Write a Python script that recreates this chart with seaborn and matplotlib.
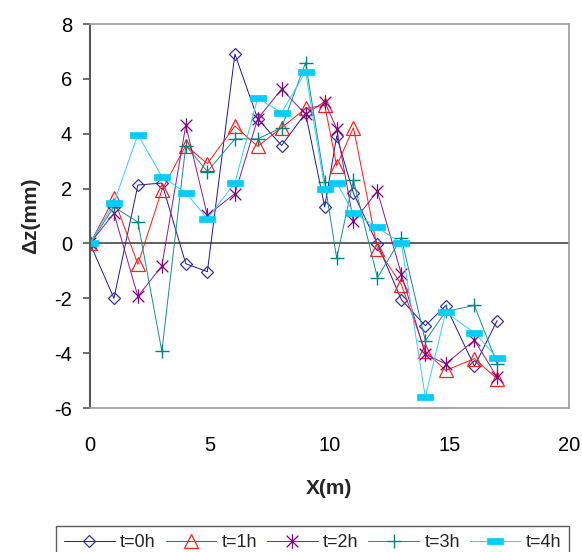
import matplotlib
matplotlib.use("Agg")
import matplotlib.pyplot as plt
from matplotlib.path import Path
import seaborn as sns
import numpy as np

sns.set_theme(style="white")
plt.rcParams['font.family'] = ['Liberation Sans', 'DejaVu Sans']

# Data
x_pos = [0, 1, 2, 3, 4, 4.9, 6.05, 7, 8, 9, 9.8, 10.3, 11, 12, 13, 14, 14.85, 16.05, 17]
t0 = [0, -2.0, 2.13, 2.2, -0.74, -1.03, 6.9, 4.55, 3.57, 4.75, 1.33, 3.91, 1.83, -0.02, -2.05, -3.0, -2.27, -4.48, -2.81]
t1 = [0, 1.64, -0.76, 1.94, 3.57, 2.91, 4.28, 3.54, 4.22, 4.92, 5.04, 2.83, 4.22, -0.19, -1.5, -3.93, -4.63, -4.2, -4.94]
t2 = [0, 1.1, -1.93, -0.82, 4.31, 1.02, 1.82, 4.54, 5.63, 4.71, 5.17, 4.18, 0.8, 1.9, -1.11, -4.04, -4.39, -3.53, -4.88]
t3 = [0, 1.33, 0.78, -3.93, 3.57, 2.62, 3.81, 3.81, 4.22, 6.59, 2.25, -0.54, 2.31, -1.25, 0.2, -3.55, -2.48, -2.26, -4.39]
t4 = [0, 1.48, 3.97, 2.44, 1.85, 0.9, 2.21, 5.3, 4.77, 6.25, 2.0, 2.21, 1.11, 0.59, 0.0, -5.6, -2.51, -3.25, -4.17]
labels = ["t=0h", "t=1h", "t=2h", "t=3h", "t=4h"]
x_ticks = [0, 5, 10, 15, 20]
y_ticks = [-6, -4, -2, 0, 2, 4, 6, 8]

fig = plt.figure(figsize=(5.82, 5.52), dpi=100)
ax = fig.add_axes([90/582, 1 - 408/552, 479/582, 384/552])

bar = [(-1, -0.33), (1, -0.33), (1, 0.33), (-1, 0.33), (-1, -0.33)]
star = Path([(0, -1), (0, 1), (-0.8, -0.8), (0.8, 0.8), (-0.8, 0.8), (0.8, -0.8)],
            [Path.MOVETO, Path.LINETO, Path.MOVETO, Path.LINETO, Path.MOVETO, Path.LINETO])
styles = [
    dict(color="#1a1a8c", marker="D", ms=6.6, mfc="none", mec="#3333a8", mew=0.9),
    dict(color="#FF1a1a", marker="^", ms=9.5, mfc="none", mec="#FF2020", mew=0.9),
    dict(color="#8a1a8a", marker=star, ms=10.5, mfc="none", mec="#800080", mew=0.9),
    dict(color="#1a8a8a", marker="+", ms=10, mfc="none", mec="#008080", mew=1.0),
    dict(color="#33CCFF", marker=bar, ms=11.5, mfc="#00CCFF", mec="#00CCFF", mew=0.5),
]
series = [t0, t1, t2, t3, t4]
for ys, lab, st in zip(series, labels, styles):
    sns.lineplot(x=x_pos, y=ys, ax=ax, sort=False, estimator=None, label=lab,
                 linewidth=0.7, **st)

ax.axhline(0, color="#606060", lw=1.4, zorder=1)

ax.set_xlim(0, 20)
ax.set_ylim(-6, 8)
ax.set_xticks(x_ticks)
ax.set_yticks(y_ticks)
ax.set_xticklabels([str(v) for v in x_ticks])
ax.set_yticklabels([str(v) for v in y_ticks])
ax.tick_params(axis="x", length=0, pad=20, labelsize=14.5, colors="black")
ax.tick_params(axis="y", length=5, width=1.2, direction="out", pad=8, labelsize=14.5,
               color="#555555", labelcolor="black", left=True)

for side in ["top", "right", "bottom"]:
    ax.spines[side].set_color("#A0A0A0")
    ax.spines[side].set_linewidth(1.3)
ax.spines["left"].set_color("#555555")
ax.spines["left"].set_linewidth(1.5)
ax.grid(False)

ax.set_xlabel("X(m)", fontsize=15, fontweight="bold")
ax.xaxis.set_label_coords(0.5, (408 - 488) / 384)
ax.xaxis.label.set_va("center")
ax.set_ylabel("Δz(mm)", fontsize=15, fontweight="bold")
ax.yaxis.set_label_coords((31 - 90) / 479, 0.5)
ax.yaxis.label.set_va("center")

ax.get_legend().remove()
handles, labs = ax.get_legend_handles_labels()
leg = fig.legend(handles, labs, loc="upper left", bbox_to_anchor=(56/582, 1 - 526/552),
                 ncol=5, frameon=True, fancybox=False, fontsize=13, handlelength=2.8,
                 handletextpad=0.3, columnspacing=0.55, borderpad=0.45, borderaxespad=0)
leg.get_frame().set_edgecolor("#333333")
leg.get_frame().set_linewidth(1.0)

fig.savefig("out.png", dpi=100)
